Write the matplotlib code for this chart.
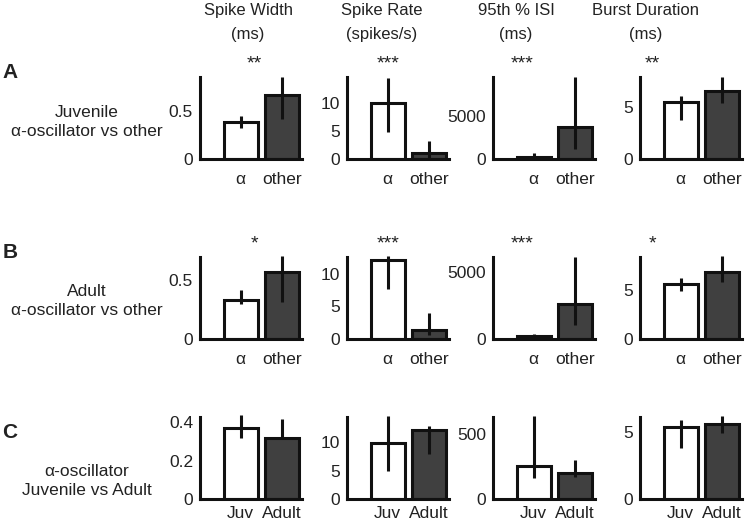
import numpy as np
import matplotlib
matplotlib.use("Agg")
import matplotlib.pyplot as plt
from matplotlib.ticker import FormatStrFormatter

plt.rcParams["font.family"] = ["Liberation Sans", "DejaVu Sans"]

# column headers
metrics = ["Spike Width\n(ms)", "Spike Rate\n(spikes/s)", "95th % ISI\n(ms)", "Burst Duration\n(ms)"]

# row A: juvenile, alpha vs other (bar value, error low, error high)
a_alpha = [0.38, 10.0, 230, 5.42]
a_alpha_lo = [0.318, 4.9, 100, 3.73]
a_alpha_hi = [0.445, 14.6, 690, 6.0]
a_other = [0.66, 1.07, 3700, 6.5]
a_other_lo = [0.41, 0.0, 1150, 5.3]
a_other_hi = [0.846, 3.3, 9470, 7.78]

# row B: adult, alpha vs other
b_alpha = [0.33, 12.1, 245, 5.57]
b_alpha_lo = [0.30, 7.65, 150, 4.83]
b_alpha_hi = [0.42, 12.7, 370, 6.18]
b_other = [0.57, 1.42, 2610, 6.82]
b_other_lo = [0.32, 0.65, 1060, 5.73]
b_other_hi = [0.705, 4.0, 6100, 8.37]

# row C: alpha oscillators, juvenile vs adult
c_juv = [0.368, 9.93, 255, 5.38]
c_juv_lo = [0.316, 5.0, 160, 3.8]
c_juv_hi = [0.435, 14.6, 636, 5.93]
c_adult = [0.32, 12.2, 199, 5.6]
c_adult_lo = [0.31, 7.9, 165, 4.93]
c_adult_hi = [0.414, 12.9, 301, 6.17]

stars_a = ["**", "***", "***", "**"]
stars_b = ["*", "***", "***", "*"]

ytop_a = [0.85, 14.7, 9500, 7.82]
ytop_b = [0.70, 12.55, 6100, 8.3]
ytop_c = [0.427, 14.5, 628, 6.13]
yticks_a = [[0, 0.5], [0, 5, 10], [0, 5000], [0, 5]]
yticks_b = [[0, 0.5], [0, 5, 10], [0, 5000], [0, 5]]
yticks_c = [[0, 0.2, 0.4], [0, 5, 10], [0, 500], [0, 5]]

W, H = 748, 524
TXT = "#222222"
DARK = "#404040"
FS = 12.5

fig = plt.figure(figsize=(W / 100, H / 100), dpi=100)

col_left = [200, 347, 493, 640]
row_top = [77, 257, 417]
ax_w, ax_h = 102, 82
xpad = [9, 9, 5]

rows = [
    (a_alpha, a_alpha_lo, a_alpha_hi, a_other, a_other_lo, a_other_hi, ["α", "other"], ytop_a, yticks_a),
    (b_alpha, b_alpha_lo, b_alpha_hi, b_other, b_other_lo, b_other_hi, ["α", "other"], ytop_b, yticks_b),
    (c_juv, c_juv_lo, c_juv_hi, c_adult, c_adult_lo, c_adult_hi, ["Juv", "Adult"], ytop_c, yticks_c),
]

for r, (v1, lo1, hi1, v2, lo2, hi2, xl, ytops, yts) in enumerate(rows):
    for c in range(4):
        ax = fig.add_axes([col_left[c] / W, 1 - (row_top[r] + ax_h) / H, ax_w / W, ax_h / H])
        vals = [v1[c], v2[c]]
        lo = [v1[c] - lo1[c], v2[c] - lo2[c]]
        hi = [hi1[c] - v1[c], hi2[c] - v2[c]]
        ax.bar([1, 2], vals, width=0.83, color=["white", DARK],
               edgecolor="#111111", linewidth=2.2, zorder=2)
        ax.errorbar([1, 2], vals, yerr=[lo, hi], fmt="none", ecolor="#111111",
                    elinewidth=2.2, capsize=0, zorder=3, clip_on=False)
        ax.set_xlim(0, 2.5)
        ax.set_ylim(0, ytops[c])
        ax.set_yticks(yts[c])
        ax.yaxis.set_major_formatter(FormatStrFormatter("%g"))
        ax.set_xticks([1, 2])
        ax.set_xticklabels(xl)
        ax.tick_params(length=0, labelsize=FS, colors=TXT)
        ax.tick_params(axis="y", pad=5)
        ax.tick_params(axis="x", pad=xpad[r])
        for s in ["top", "right"]:
            ax.spines[s].set_visible(False)
        for s in ["left", "bottom"]:
            ax.spines[s].set_linewidth(2.2)
            ax.spines[s].set_color("#111111")
            ax.spines[s].set_capstyle("projecting")
        ax.patch.set_visible(False)

# column headers and significance stars
header_x = [248, 382, 516, 646]
for c in range(4):
    fig.text(header_x[c] / W, 1 - 3 / H, metrics[c], ha="center", va="top",
             fontsize=12, color=TXT, linespacing=1.75)
    fig.text((header_x[c] + 6) / W, 1 - 68 / H, stars_a[c], ha="center", va="baseline",
             fontsize=14, color=TXT)
    fig.text((header_x[c] + 6) / W, 1 - 248 / H, stars_b[c], ha="center", va="baseline",
             fontsize=14, color=TXT)

# row labels
for lab, y in zip(["A", "B", "C"], [72, 252, 432]):
    fig.text(10 / W, 1 - y / H, lab, ha="center", va="center", fontsize=15,
             fontweight="bold", color=TXT)
row_text = ["Juvenile\nα-oscillator vs other", "Adult\nα-oscillator vs other",
            "α-oscillator\nJuvenile vs Adult"]
for t, y in zip(row_text, [122, 301, 481]):
    fig.text(87 / W, 1 - y / H, t, ha="center", va="center", fontsize=FS,
             color=TXT, linespacing=1.3)

fig.savefig("out.png", dpi=100)
